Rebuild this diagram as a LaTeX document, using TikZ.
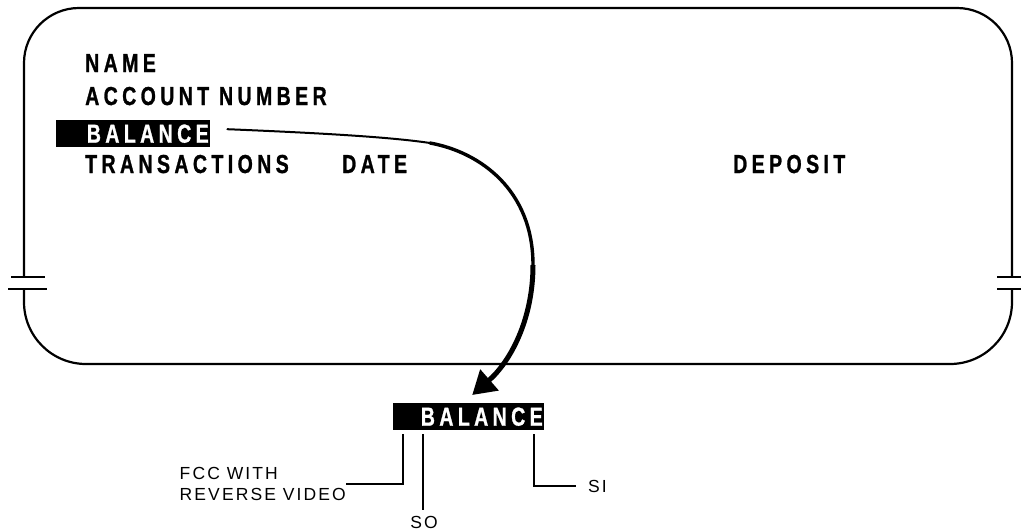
\documentclass[tikz,border=0pt]{standalone}
\usepackage{fontspec}
\setmainfont{Liberation Sans}
\newfontfamily\hdrfont[FakeStretch=0.75,FakeBold=1,LetterSpace=17]{Liberation Sans}
\newfontfamily\lblfont[LetterSpace=12]{Liberation Sans}
\usetikzlibrary{arrows.meta,calc}
\begin{document}
\begin{tikzpicture}[x=1pt,y=-1pt,
  hdr/.style={font=\hdrfont\bfseries\fontsize{26}{30}\selectfont, inner sep=0pt, anchor=base west},
  rev/.style={font=\hdrfont\bfseries\fontsize{26}{30}\selectfont, fill=black, text=white, align=right,
              minimum height=27pt, inner xsep=1.5pt, inner ysep=0pt, anchor=north west},
  lbl/.style={font=\lblfont\fontsize{17.5}{21}\selectfont, inner sep=0pt},
  frame/.style={line width=2.2pt},
  callout/.style={line width=1.8pt}]
\useasboundingbox (0,0) rectangle (1021,531);

% screen frame with break marks
\draw[frame, rounded corners=55pt] (24,277) -- (24,8) -- (1012,8) -- (1012,277);
\draw[frame, rounded corners=62pt] (1012,289) -- (1012,364) -- (24,364) -- (24,289);
\draw[frame] (11,277) -- (45,277) (8,289) -- (47,289);
\draw[frame] (997,277) -- (1021,277) (997,289) -- (1021,289);

% screen texts
\node[hdr] (name) at (85,72) {NAME};
\node[hdr] (acct) at (85,105) {ACCOUNT NUMBER};
\node[rev, text width=151pt] (bal1) at (56,120) {BALANCE};
\node[hdr] (trans) at (85,173) {TRANSACTIONS};
\node[hdr] (date) at (342,173) {DATE};
\node[hdr] (dep) at (733,173) {DEPOSIT};

% lower field
\node[rev, text width=148pt] (bal2) at (393,403) {BALANCE};

% curved arrow
\coordinate (a0) at ($(bal1.east)+(17,-4.5)$);
\coordinate (a1) at (430,143);
\coordinate (a2) at (533,265);
\coordinate (a3) at ($(bal2.north)+(3.5,-8)$);
\draw[line width=2pt, line cap=round] (a0) .. controls (320,133) and (390,137) .. (a1);
\draw[line width=3.4pt, line cap=round] (a1) .. controls (480,152) and (533,190) .. (a2);
\draw[line width=5pt, -{Triangle[length=23pt,width=27pt]}] (a2) .. controls (533,320) and (510,362) .. (a3);

% callouts
\node[lbl, anchor=east, align=left] (fcc) at (346,484) {FCC WITH\\REVERSE VIDEO};
\node[lbl, anchor=north] (so) at (424,516) {SO};
\node[lbl, anchor=west] (si) at (588,486) {SI};
\coordinate (c1) at ($(bal2.south west)+(10,4)$);
\coordinate (c2) at ($(bal2.south west)+(30,4)$);
\coordinate (c3) at ($(bal2.south west)+(141,4)$);
\draw[callout] (c1) |- (fcc.east);
\draw[callout] (c2) -- ([yshift=6pt]c2 |- so.north);
\draw[callout] (c3) |- ([xshift=-12pt]si.west);
\end{tikzpicture}
\end{document}
